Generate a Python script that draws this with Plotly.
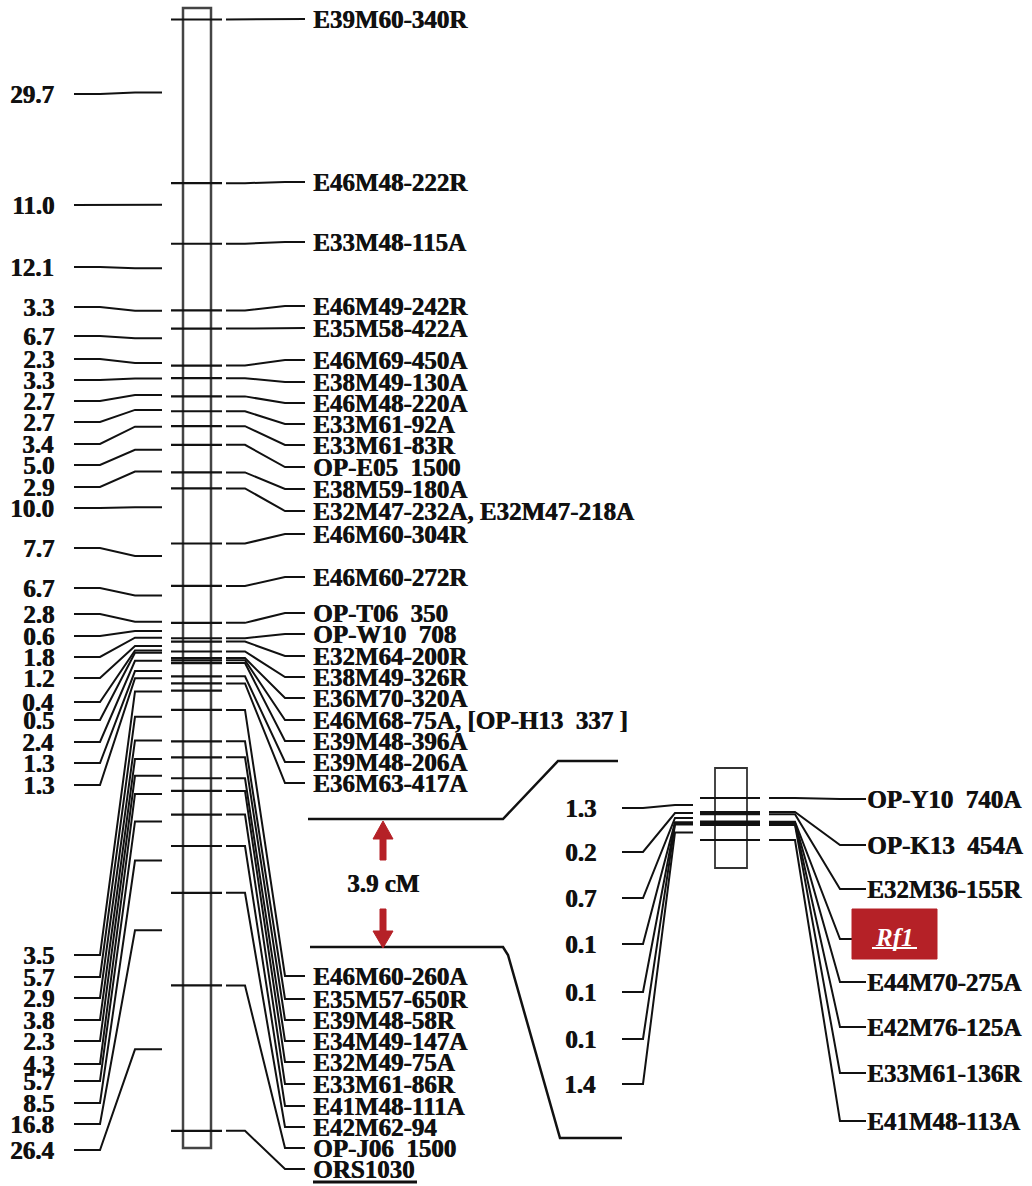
import plotly.graph_objects as go

W, H = 1032, 1186
NB = "\u00a0"

# ---------------- data: main linkage group ----------------
main_intervals = [29.7, 11.0, 12.1, 3.3, 6.7, 2.3, 3.3, 2.7, 2.7, 3.4, 5.0, 2.9, 10.0,
                  7.7, 6.7, 2.8, 0.6, 1.8, 1.2, 0.4, 0.5, 2.4, 1.3, 1.3,
                  3.5, 5.7, 2.9, 3.8, 2.3, 4.3, 5.7, 8.5, 16.8, 26.4]
main_markers = [
    "E39M60-340R", "E46M48-222R", "E33M48-115A", "E46M49-242R", "E35M58-422A",
    "E46M69-450A", "E38M49-130A", "E46M48-220A", "E33M61-92A", "E33M61-83R",
    "OP-E05" + NB + NB + "1500", "E38M59-180A", "E32M47-232A, E32M47-218A", "E46M60-304R",
    "E46M60-272R", "OP-T06" + NB + NB + "350", "OP-W10" + NB + NB + "708", "E32M64-200R",
    "E38M49-326R", "E36M70-320A", "E46M68-75A, [OP-H13" + NB + NB + "337" + NB + "]",
    "E39M48-396A", "E39M48-206A", "E36M63-417A",
    "E46M60-260A", "E35M57-650R", "E39M48-58R", "E34M49-147A", "E32M49-75A",
    "E33M61-86R", "E41M48-111A", "E42M62-94", "OP-J06" + NB + NB + "1500", "ORS1030"]
main_marker_locus = list(range(0, 24)) + list(range(25, 35))

# ---------------- data: fine map of the Rf1 region ----------------
fine_intervals = [1.3, 0.2, 0.7, 0.1, 0.1, 0.1, 1.4]
fine_markers = ["OP-Y10" + NB + NB + "740A", "OP-K13" + NB + NB + "454A", "E32M36-155R", "Rf1",
                "E44M70-275A", "E42M76-125A", "E33M61-136R", "E41M48-113A"]
region_label = "3.9 cM"

# ---------------- layout (label slots in pixels) ----------------
main_left_px = [94, 205, 267, 307, 336, 359, 380, 401, 422, 444, 465, 487, 508, 548, 588,
                614, 636, 657, 678, 702, 720, 742, 763, 785,
                955, 977, 998, 1020, 1041, 1064, 1081, 1103, 1124, 1150]
main_right_px = [19, 182, 242, 306, 328, 360, 382, 403, 424, 445, 467, 489, 511, 534, 577,
                 613, 634, 656, 677, 698, 720, 741, 762, 783,
                 976, 999, 1020, 1041, 1062, 1084, 1106, 1127, 1148, 1169]
fine_left_px = [808, 852, 898, 944, 992, 1039, 1084]
fine_right_px = [799, 845, 889, 939, 982, 1027, 1073, 1121]

MAIN_Y0, MAIN_K = 19.5, 5.51     # pixel of 0 cM, pixels per cM
FINE_Y0, FINE_K = 798.0, 10.77
LEFT_OFF = 1.6


def cm_main(p):
    return (p - MAIN_Y0) / MAIN_K


def cm_fine(p):
    return (p - FINE_Y0) / FINE_K


def cumulative(iv):
    out = [0.0]
    for v in iv:
        out.append(round(out[-1] + v, 3))
    return out


main_pos = cumulative(main_intervals)
fine_pos = cumulative(fine_intervals)

INK = "#111111"
RED = "#b52127"
FONT = "Liberation Serif"
FS = 25
SHADOW = "0.7px 0px 0px #111111"


def tfont(color=INK, size=FS, shadow=SHADOW):
    return dict(family=FONT, size=size, color=color, shadow=shadow)


fig = go.Figure()
shapes = []
annotations = []


def add_lines(xs, ys, yaxis="y", width=2.0, color=INK):
    fig.add_trace(go.Scatter(x=xs, y=ys, mode="lines", yaxis=yaxis, hoverinfo="skip",
                             line=dict(color=color, width=width), showlegend=False))


# ---- main map: chromosome bar ----
shapes.append(dict(type="rect", xref="x", yref="y", x0=183, x1=211,
                   y0=main_pos[0] - 2.1, y1=main_pos[-1] + 3.1,
                   line=dict(color="#444444", width=2.5), layer="below"))
# ticks
xs, ys = [], []
for p in main_pos:
    xs += [171, 222, None]
    ys += [p, p, None]
add_lines(xs, ys, width=2.2)

# left interval connectors
xs, ys = [], []
for i, v in enumerate(main_intervals):
    mid = (main_pos[i] + main_pos[i + 1]) / 2 - LEFT_OFF
    ly = cm_main(main_left_px[i])
    xs += [74, 100, 135, 162, None]
    ys += [ly, ly, mid, mid, None]
    annotations.append(dict(x=56, y=ly, xref="x", yref="y", text="<b>%.1f</b>" % v,
                            xanchor="right", yanchor="middle", showarrow=False,
                            font=tfont()))
add_lines(xs, ys, width=2.0)

# right marker connectors
xs, ys = [], []
for j, name in enumerate(main_markers):
    t = main_pos[main_marker_locus[j]]
    ly = cm_main(main_right_px[j])
    xs += [226, 245, 285, 305, None]
    ys += [t, t, ly, ly, None]
    annotations.append(dict(x=311, y=ly, xref="x", yref="y", text="<b>%s</b>" % name,
                            xanchor="left", yanchor="middle", showarrow=False,
                            font=tfont()))
add_lines(xs, ys, width=2.0)

# underline of ORS1030
shapes.append(dict(type="line", xref="x", yref="y", x0=313, x1=417,
                   y0=cm_main(1182), y1=cm_main(1182), line=dict(color=INK, width=3)))

# ---- zoom lines from main map to fine map ----
add_lines([308, 503, 558, 618], [cm_main(819), cm_main(819), cm_main(761), cm_main(761)], width=2.5)
add_lines([310, 503, 508, 560, 622],
          [cm_main(947), cm_main(947), cm_main(955), cm_main(1138), cm_main(1138)], width=2.5)


def poly(pts):
    s = "M %s,%s" % (pts[0][0], cm_main(pts[0][1]))
    for x, y in pts[1:]:
        s += " L %s,%s" % (x, cm_main(y))
    return s + " Z"


ax = 383
up = [(ax, 821), (ax + 10, 839), (ax + 3, 839), (ax + 3, 860), (ax - 3, 860), (ax - 3, 839), (ax - 10, 839)]
dn = [(ax - 3, 909), (ax + 3, 909), (ax + 3, 931), (ax + 10, 931), (ax, 948), (ax - 10, 931), (ax - 3, 931)]
for pts in (up, dn):
    shapes.append(dict(type="path", xref="x", yref="y", path=poly(pts),
                       fillcolor=RED, line=dict(color=RED, width=1)))
annotations.append(dict(x=ax, y=cm_main(883), xref="x", yref="y", text="<b>%s</b>" % region_label,
                        xanchor="center", yanchor="middle", showarrow=False,
                        font=tfont()))

# ---- fine map ----
shapes.append(dict(type="rect", xref="x", yref="y2", x0=715, x1=747,
                   y0=cm_fine(768), y1=cm_fine(868),
                   line=dict(color="#333333", width=1.8), layer="below"))
xs, ys = [], []
for p in fine_pos:
    xs += [700, 760, None]
    ys += [p, p, None]
add_lines(xs, ys, yaxis="y2", width=2.2)

xs, ys = [], []
for i, v in enumerate(fine_intervals):
    mid = (fine_pos[i] + fine_pos[i + 1]) / 2
    ly = cm_fine(fine_left_px[i])
    xs += [622, 643, 675, 693, None]
    ys += [ly, ly, mid, mid, None]
    annotations.append(dict(x=598, y=ly, xref="x", yref="y2", text="<b>%.1f</b>" % v,
                            xanchor="right", yanchor="middle", showarrow=False,
                            font=tfont()))
add_lines(xs, ys, yaxis="y2", width=2.0)

xs, ys = [], []
for j, name in enumerate(fine_markers):
    t = fine_pos[j]
    ly = cm_fine(fine_right_px[j])
    xs += [769, 795, 840, 866, None]
    ys += [t, t, ly, ly, None]
    if name == "Rf1":
        shapes.append(dict(type="rect", xref="x", yref="y2", x0=852, x1=937,
                           y0=cm_fine(909), y1=cm_fine(959), fillcolor=RED,
                           line=dict(color=RED, width=1), layer="above"))
        annotations.append(dict(x=894, y=ly - 0.1, xref="x", yref="y2",
                                text="<b><i>%s</i></b>" % name,
                                xanchor="center", yanchor="middle", showarrow=False,
                                font=tfont(color="white", shadow="none")))
        shapes.append(dict(type="line", xref="x", yref="y2", x0=872, x1=917,
                           y0=cm_fine(948), y1=cm_fine(948), line=dict(color="white", width=2)))
    else:
        annotations.append(dict(x=865, y=ly, xref="x", yref="y2", text="<b>%s</b>" % name,
                                xanchor="left", yanchor="middle", showarrow=False,
                                font=tfont()))
add_lines(xs, ys, yaxis="y2", width=2.0)

fig.update_layout(
    width=W, height=H, margin=dict(l=0, r=0, t=0, b=0),
    paper_bgcolor="white", plot_bgcolor="white", showlegend=False,
    xaxis=dict(range=[0, W], visible=False, fixedrange=True),
    yaxis=dict(range=[cm_main(H), cm_main(0)], visible=False, fixedrange=True),
    yaxis2=dict(range=[cm_fine(H), cm_fine(0)], visible=False, fixedrange=True,
                overlaying="y"),
    shapes=shapes, annotations=annotations,
)

fig.write_html("out.html", config={"displayModeBar": False},
               post_script="document.body.style.margin='0';document.body.style.overflow='hidden';")
